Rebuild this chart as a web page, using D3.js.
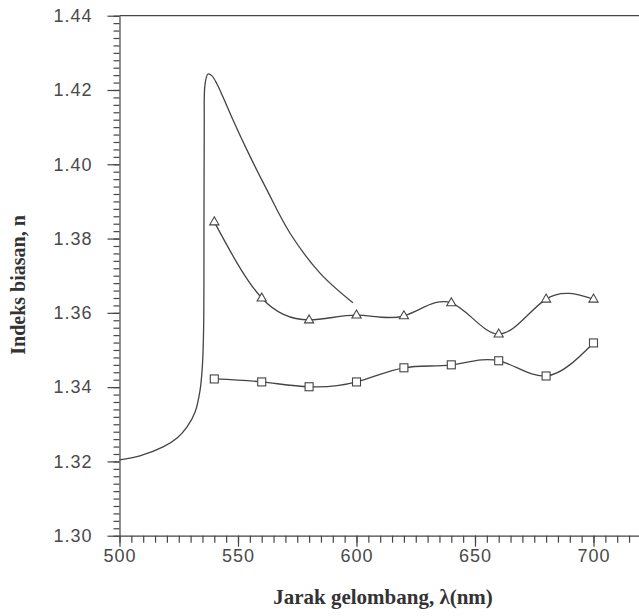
<!DOCTYPE html>
<html>
<head>
<meta charset="utf-8">
<script src="https://cdn.jsdelivr.net/npm/d3@7"></script>
<style>
  body { margin: 0; background: #fff; }
  svg { display: block; }
</style>
</head>
<body>
<svg id="chart"></svg>
<script>
// data
const wavelengths = [540, 560, 580, 600, 620, 640, 660, 680, 700];
const nTriangle = [1.3845, 1.3640, 1.3581, 1.3594, 1.3592, 1.3627, 1.3543, 1.3637, 1.3637];
const nSquare = [1.3422, 1.3414, 1.3401, 1.3414, 1.3452, 1.3460, 1.3471, 1.3430, 1.3519];

// the continuous curve (no markers)
const curveLambda = [500, 508.6, 518.4, 524.3, 528.5, 531.9, 534.0, 535.0, 535.5, 535.65, 535.75, 536.1, 537.34, 539.03, 541.14, 543.67, 547.9, 553.8, 562.2, 571.9, 584.6, 598.5];
const curveN = [1.3204, 1.3215, 1.3239, 1.3263, 1.3293, 1.3333, 1.3392, 1.3460, 1.3560, 1.3850, 1.4100, 1.4216, 1.4243, 1.4238, 1.4216, 1.4181, 1.4119, 1.4038, 1.3931, 1.3815, 1.3707, 1.3627];

const xTicks = [500, 550, 600, 650, 700];
const yTicks = [1.30, 1.32, 1.34, 1.36, 1.38, 1.40, 1.42, 1.44];

const width = 639, height = 616;
const ink = '#444';

const svg = d3.select('#chart')
    .attr('width', width)
    .attr('height', height);

svg.append('rect').attr('width', width).attr('height', height).attr('fill', '#fff');

// scales
const x = d3.scaleLinear().domain([500, 720]).range([119.5, 119.5 + 220 * 2.37]);
const y = d3.scaleLinear().domain([1.30, 1.44]).range([535.7, 15.7]);

// minor ticks
const xMinor = d3.range(500, 721, 5);
const yMinor = d3.range(0, 71).map(i => 1.30 + i * 0.002);

svg.append('g')
    .attr('transform', `translate(0, ${y(1.30)})`)
    .call(d3.axisBottom(x).tickValues(xMinor).tickSize(7).tickSizeOuter(0).tickFormat(''))
    .call(g => g.select('.domain').remove());

svg.append('g')
    .attr('transform', `translate(${x(500)}, 0)`)
    .call(d3.axisLeft(y).tickValues(yMinor).tickSize(6).tickSizeOuter(0).tickFormat(''))
    .call(g => g.select('.domain').remove());

// major ticks with labels
svg.append('g')
    .attr('transform', `translate(0, ${y(1.30)})`)
    .call(d3.axisBottom(x).tickValues(xTicks).tickSize(11).tickSizeOuter(0).tickPadding(3).tickFormat(d3.format('d')));

svg.append('g')
    .attr('transform', `translate(${x(500)}, 0)`)
    .call(d3.axisLeft(y).tickValues(yTicks).tickSize(12).tickSizeOuter(0).tickPadding(15).tickFormat(d3.format('.2f')));

svg.selectAll('.tick line, .domain').attr('stroke', ink).attr('stroke-width', 1.2);
svg.selectAll('.tick text')
    .attr('fill', '#4a4a4a')
    .style('font-family', '"Liberation Sans", Arial, sans-serif')
    .style('font-size', '18px')
    .style('letter-spacing', '1px');

// top frame line
svg.append('line')
    .attr('x1', x(500)).attr('x2', width)
    .attr('y1', y(1.44)).attr('y2', y(1.44))
    .attr('stroke', ink).attr('stroke-width', 1.2);

// lines
const plain = d3.line()
    .x((d, i) => x(curveLambda[i]))
    .y(d => y(d))
    .curve(d3.curveCatmullRom.alpha(0.5));

svg.append('path')
    .attr('d', plain(curveN))
    .attr('fill', 'none').attr('stroke', ink).attr('stroke-width', 1.3);

const smooth = d3.line()
    .x((d, i) => x(wavelengths[i]))
    .y(d => y(d))
    .curve(d3.curveNatural);

[nTriangle, nSquare].forEach(vals => {
  svg.append('path')
      .attr('d', smooth(vals))
      .attr('fill', 'none').attr('stroke', ink).attr('stroke-width', 1.3);
});

// markers
svg.selectAll('.tri').data(nTriangle).enter()
    .append('path')
    .attr('class', 'tri')
    .attr('transform', (d, i) => `translate(${x(wavelengths[i])}, ${y(d)})`)
    .attr('d', 'M0,-5L4.6,3L-4.6,3Z')
    .attr('fill', '#fff').attr('stroke', ink).attr('stroke-width', 1.1);

svg.selectAll('.sq').data(nSquare).enter()
    .append('rect')
    .attr('class', 'sq')
    .attr('x', (d, i) => x(wavelengths[i]) - 4)
    .attr('y', d => y(d) - 4)
    .attr('width', 8).attr('height', 8)
    .attr('fill', '#fff').attr('stroke', ink).attr('stroke-width', 1.1);

// axis titles
svg.append('text')
    .attr('x', 383)
    .attr('y', 604)
    .attr('text-anchor', 'middle')
    .attr('fill', '#333')
    .style('font-family', '"Liberation Serif", "Times New Roman", serif')
    .style('font-weight', 'bold')
    .style('font-size', '21px')
    .text('Jarak gelombang, λ(nm)');

svg.append('text')
    .attr('transform', 'translate(25, 285) rotate(-90)')
    .attr('text-anchor', 'middle')
    .attr('fill', '#333')
    .style('font-family', '"Liberation Serif", "Times New Roman", serif')
    .style('font-weight', 'bold')
    .style('font-size', '20px')
    .text('Indeks biasan, n');
</script>
</body>
</html>
